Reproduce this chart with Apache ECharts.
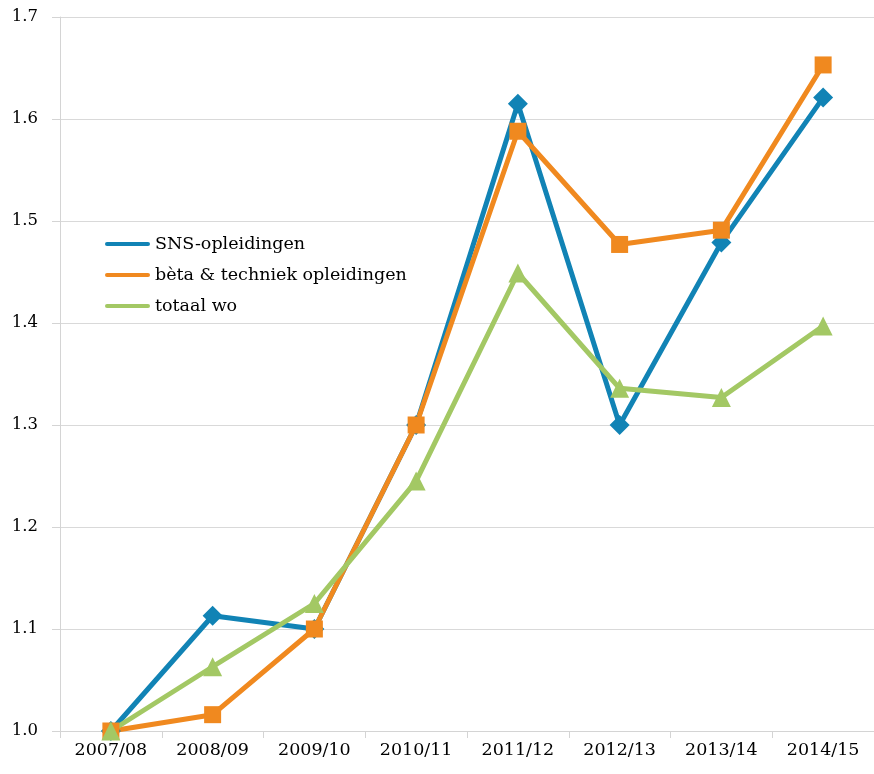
<!DOCTYPE html>
<html><head><meta charset="utf-8">
<script src="https://cdn.jsdelivr.net/npm/echarts@6/dist/echarts.min.js"></script>
<style>html,body{margin:0;padding:0;background:#fff}#c{width:874px;height:774px}</style>
</head><body><div id="c"></div>
<script>
const categories = ['2007/08','2008/09','2009/10','2010/11','2011/12','2012/13','2013/14','2014/15'];
const yTicks = [1.0,1.1,1.2,1.3,1.4,1.5,1.6,1.7];
const sns = [1.0, 1.113, 1.10, 1.30, 1.615, 1.30, 1.479, 1.621];
const beta = [1.0, 1.016, 1.10, 1.30, 1.588, 1.477, 1.491, 1.653];
const totaal = [1.0, 1.063, 1.125, 1.245, 1.449, 1.336, 1.327, 1.397];
const names = ['SNS-opleidingen','bèta & techniek opleidingen','totaal wo'];
const colors = ['#1183b5','#f0891f','#a3c864'];
const font = 'DejaVu Serif';
const chart = echarts.init(document.getElementById('c'));
const lineIcon = 'path://M2,0 L43,0 A2,2 0 0 1 43,4 L2,4 A2,2 0 0 1 2,0 Z';
function mk(name, data, color, symbol, size){
  return {name, type:'line', data, symbol, symbolSize:size, showSymbol:true,
    lineStyle:{width:5,color}, itemStyle:{color}, animation:false};
}
chart.setOption({
  animation:false,
  textStyle:{fontFamily:font},
  grid:{left:60,right:-2,top:17,bottom:43,containLabel:false},
  legend:{orient:'vertical',left:100,top:229,itemWidth:45,itemHeight:5,itemGap:11,
    data:names.map((n,i)=>({name:n,icon:lineIcon,itemStyle:{color:colors[i]}})),
    textStyle:{fontFamily:font,fontSize:17.5,color:'#000',lineHeight:20,padding:[0,0,0,0]}},
  xAxis:{type:'category',data:categories,boundaryGap:true,
    axisLine:{lineStyle:{color:'#d4d4d4',width:1}},
    axisTick:{show:true,length:7,inside:false,lineStyle:{color:'#d4d4d4'}},
    axisLabel:{fontFamily:font,fontSize:17.5,color:'#000',margin:10}},
  yAxis:{type:'value',min:1.0,max:1.7,interval:0.1,
    axisLine:{show:true,lineStyle:{color:'#d4d4d4'}},
    axisTick:{show:true,length:8,lineStyle:{color:'#d4d4d4'}},
    splitLine:{lineStyle:{color:'#d9d9d9',width:1}},
    axisLabel:{fontFamily:font,fontSize:16.5,color:'#000',margin:22,
      formatter:v=>{const t=yTicks.find(x=>Math.abs(x-v)<1e-6);return t!==undefined?t.toFixed(1):'';}}},
  series:[
    mk(names[0], sns, colors[0], 'diamond', 20),
    mk(names[1], beta, colors[1], 'rect', 17),
    mk(names[2], totaal, colors[2], 'triangle', 19)
  ]
});
</script></body></html>
